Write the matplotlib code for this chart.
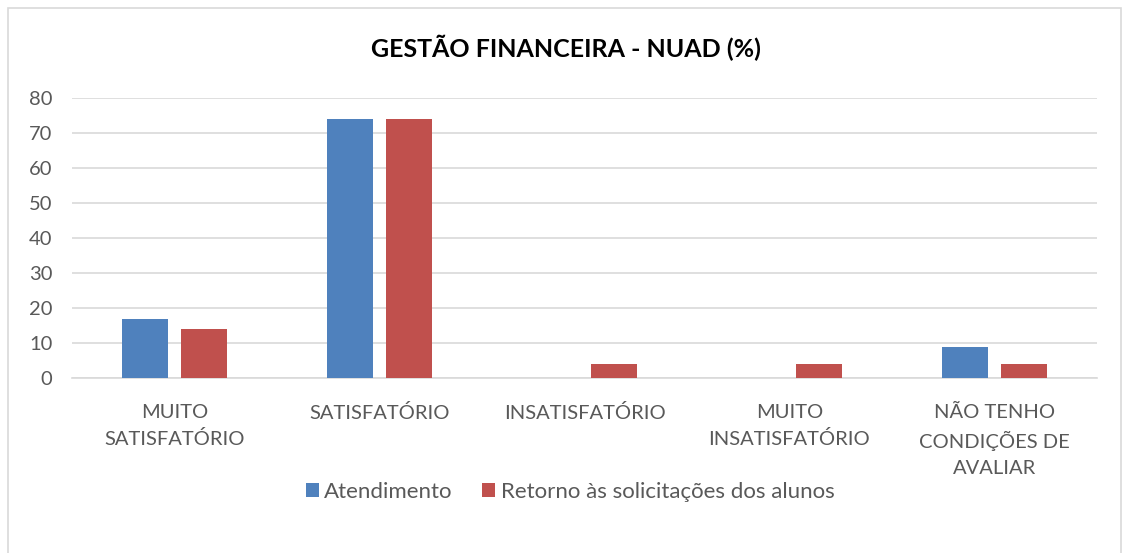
import matplotlib
matplotlib.use("Agg")
import matplotlib.pyplot as plt
import numpy as np
from matplotlib.patches import Rectangle

categories = ["MUITO\nSATISFATÓRIO", "SATISFATÓRIO", "INSATISFATÓRIO", "MUITO\nINSATISFATÓRIO", "NÃO TENHO\nCONDIÇÕES DE\nAVALIAR"]
atendimento = [17, 74, 0, 0, 9]
retorno = [14, 74, 4, 4, 4]
series_names = ["Atendimento", "Retorno às solicitações dos alunos"]
yticks = [0, 10, 20, 30, 40, 50, 60, 70, 80]
title = "GESTÃO FINANCEIRA - NUAD (%)"

plt.rcParams['font.family'] = ['Lato', 'DejaVu Sans']
text_color = "#595959"

fig = plt.figure(figsize=(11.27, 5.53), dpi=100)
ax = fig.add_axes([72/1127, 1-378/553, (1097-72)/1127, (378-98)/553])

x = np.arange(len(categories))
w = 0.224
gap = 0.06
ax.bar(x - (w+gap)/2, atendimento, width=w, color="#4F81BD", label=series_names[0], zorder=3)
ax.bar(x + (w+gap)/2, retorno, width=w, color="#C0504D", label=series_names[1], zorder=3)

ax.set_xlim(-0.5, len(categories)-0.5)
ax.set_ylim(0, 80)
ax.set_yticks(yticks)
ax.set_yticklabels([str(v) for v in yticks], fontsize=14.5, color=text_color)
ax.set_xticks(x)
ax.set_xticklabels(categories, fontsize=14.5, color=text_color, linespacing=1.58)
ax.tick_params(axis='both', length=0)
ax.tick_params(axis='x', pad=19)
ax.tick_params(axis='y', pad=14)
ax.yaxis.grid(True, color="#D9D9D9", linewidth=1.2, zorder=0)
for s in ["top", "right", "left"]:
    ax.spines[s].set_visible(False)
ax.spines["bottom"].set_color("#D9D9D9")
ax.spines["bottom"].set_linewidth(1.2)

fig.text(566/1127, 1-48/553, title, ha="center", va="center", fontsize=18, fontweight="bold", color="black")

leg = fig.legend(loc="center", bbox_to_anchor=(570/1127, 1-492/553), ncol=2, frameon=False,
                 fontsize=16, handlelength=0.6, handleheight=0.6, handletextpad=0.25, columnspacing=1.3)
for t in leg.get_texts():
    t.set_color(text_color)

fig.patches.append(Rectangle((8/1127, -0.01), (1121-8)/1127, 1-8/553+0.01, transform=fig.transFigure,
                             fill=False, edgecolor="#D9D9D9", linewidth=1.2))

fig.savefig("out.png", dpi=100)
